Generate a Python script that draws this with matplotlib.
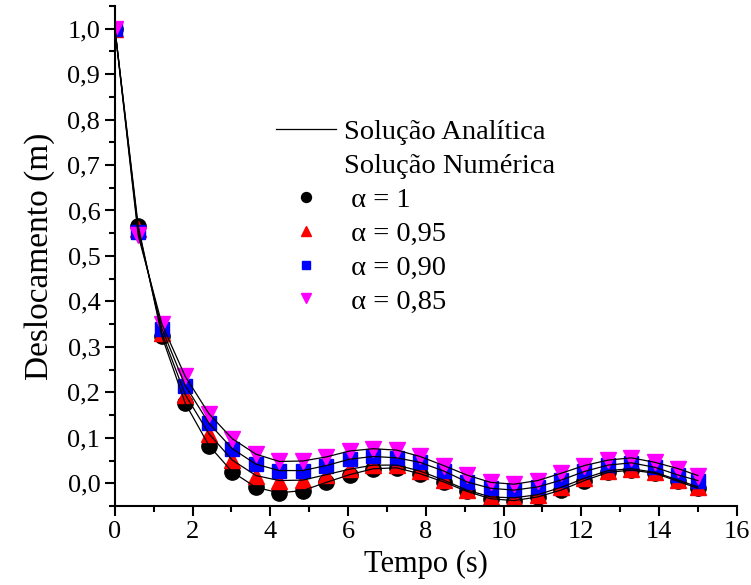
import numpy as np
import matplotlib
matplotlib.use('Agg')
import matplotlib.pyplot as plt
from matplotlib.lines import Line2D
from matplotlib.ticker import MultipleLocator, FixedLocator, FixedFormatter

plt.rcParams['font.family'] = ['Liberation Serif', 'DejaVu Serif']

# tempo dos pontos numericos (s)
tempo = [0.0, 0.6, 1.21, 1.81, 2.42, 3.02, 3.63, 4.23, 4.83, 5.44, 6.04, 6.65, 7.25,
         7.85, 8.46, 9.06, 9.67, 10.27, 10.88, 11.48, 12.08, 12.69, 13.29, 13.9, 14.5, 15.0]

# deslocamento (m) para cada alpha
desl_a100 = [1.0, 0.566, 0.323, 0.176, 0.083, 0.025, -0.009, -0.021, -0.016, 0.002, 0.019, 0.032, 0.034,
             0.021, 0.003, -0.018, -0.034, -0.038, -0.030, -0.015, 0.006, 0.024, 0.029, 0.022, 0.004, -0.011]
desl_a095 = [1.0, 0.560, 0.330, 0.195, 0.109, 0.051, 0.017, 0.006, 0.007, 0.019, 0.031, 0.040, 0.040,
             0.027, 0.007, -0.015, -0.030, -0.032, -0.025, -0.009, 0.011, 0.028, 0.032, 0.024, 0.007, -0.008]
desl_a090 = [1.0, 0.553, 0.340, 0.215, 0.132, 0.076, 0.042, 0.028, 0.028, 0.039, 0.053, 0.059, 0.056,
             0.046, 0.027, 0.003, -0.011, -0.015, -0.008, 0.007, 0.026, 0.040, 0.045, 0.035, 0.018, 0.006]
desl_a085 = [1.0, 0.545, 0.350, 0.235, 0.153, 0.098, 0.064, 0.048, 0.049, 0.058, 0.071, 0.076, 0.073,
             0.059, 0.039, 0.018, 0.002, -0.002, 0.006, 0.022, 0.039, 0.051, 0.056, 0.046, 0.032, 0.017]

series_labels = [' \u03b1 = 1', ' \u03b1 = 0,95', ' \u03b1 = 0,90', ' \u03b1 = 0,85']
y_ticks = [0.0, 0.1, 0.2, 0.3, 0.4, 0.5, 0.6, 0.7, 0.8, 0.9, 1.0]
y_tick_labels = ['0,0', '0,1', '0,2', '0,3', '0,4', '0,5', '0,6', '0,7', '0,8', '0,9', '1,0']

fig = plt.figure(figsize=(7.51, 5.85), dpi=100)
ax = fig.add_axes([0.153, 0.135, 0.828, 0.855])

all_series = [desl_a100, desl_a095, desl_a090, desl_a085]
styles = [('o', 'black', 11), ('^', 'red', 11), ('s', 'blue', 9.5), ('v', 'magenta', 11)]

for y, (mk, col, ms) in zip(all_series, styles):
    ax.plot(tempo, y, linestyle='none', marker=mk, color=col, markersize=ms, zorder=2)

# solucao analitica
for y in all_series:
    ax.plot(tempo, y, color='black', lw=0.9, zorder=3)

ax.set_xlim(0, 16)
ax.set_ylim(-0.05, 1.05)
ax.xaxis.set_major_locator(MultipleLocator(2))
ax.xaxis.set_minor_locator(MultipleLocator(1))
ax.yaxis.set_major_locator(FixedLocator(y_ticks))
ax.yaxis.set_major_formatter(FixedFormatter(y_tick_labels))
ax.yaxis.set_minor_locator(MultipleLocator(0.05))

for s in ['top', 'right']:
    ax.spines[s].set_visible(False)
for s in ['left', 'bottom']:
    ax.spines[s].set_linewidth(1.5)

ax.tick_params(which='major', direction='out', length=7, width=1.5, labelsize=19)
ax.tick_params(which='minor', direction='out', length=4, width=1.5)

ax.set_xlabel('Tempo (s)', fontsize=22, labelpad=5)
ax.set_ylabel('Deslocamento (m)', fontsize=24, labelpad=9)

handles = [Line2D([], [], color='black', lw=0.9),
           Line2D([], [], linestyle='none')]
labels = ['Solu\u00e7\u00e3o Anal\u00edtica', 'Solu\u00e7\u00e3o Num\u00e9rica']
for (mk, col, ms), lab in zip(styles, series_labels):
    handles.append(Line2D([], [], linestyle='none', marker=mk, color=col, markersize=ms))
    labels.append(lab)

fig.legend(handles, labels, loc='upper left', bbox_to_anchor=(276 / 751, 1 - 119 / 585),
           frameon=False, fontsize=20.5, borderpad=0, borderaxespad=0,
           handlelength=2.1, handletextpad=0.28, labelspacing=0.28, markerscale=0.65)

fig.savefig('out.png', dpi=100)
